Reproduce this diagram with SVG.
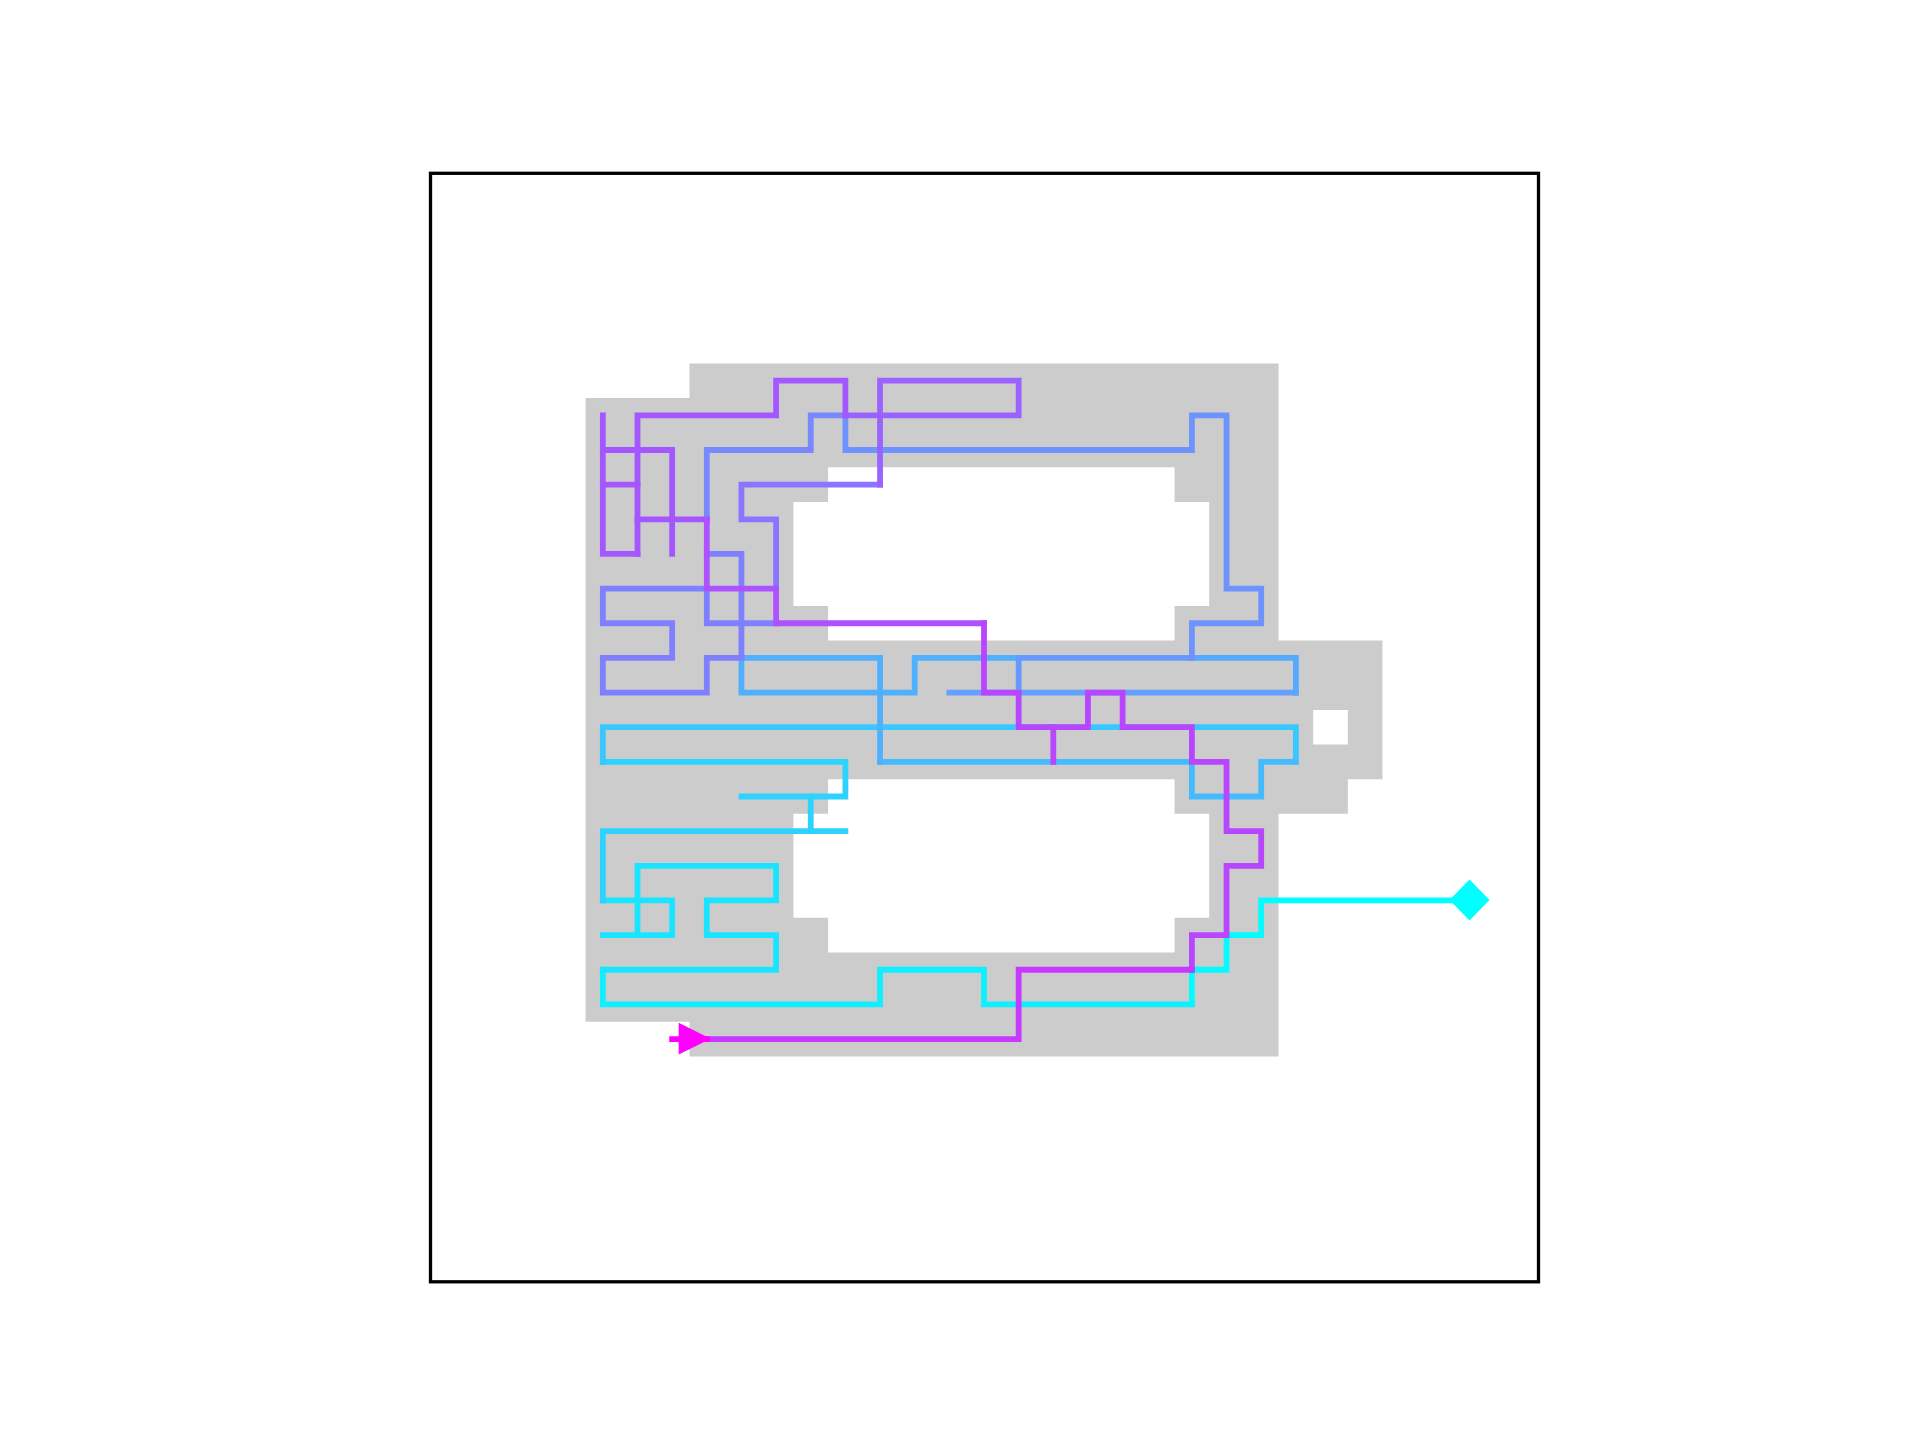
<svg xmlns="http://www.w3.org/2000/svg" width="1920" height="1440" viewBox="0 0 1920 1440">
<style>
.p{fill:none;stroke-width:0.1674;stroke-linecap:square;stroke-linejoin:miter}
</style>
<rect x="0" y="0" width="1920" height="1440" fill="#ffffff"/>
<g id="maze" transform="translate(429.6,172.8) scale(34.65)">
<path fill="#cccccc" fill-rule="evenodd" d="M7.5,5.5 H24.5 V13.5 H27.5 V17.5 H26.5 V18.5 H24.5 V25.5 H7.5 V24.5 H4.5 V6.5 H7.5 Z M11.5,8.5 H21.5 V9.5 H22.5 V12.5 H21.5 V13.5 H11.5 V12.5 H10.5 V9.5 H11.5 Z M11.5,17.5 H21.5 V18.5 H22.5 V21.5 H21.5 V22.5 H11.5 V21.5 H10.5 V18.5 H11.5 Z M25.5,15.5 H26.5 V16.5 H25.5 Z"/>
</g>
<g id="connectors" transform="translate(429.6,172.8) scale(34.65)">
<!-- cyan family -->
<polyline class="p" stroke="#03fcff" points="22,24 22,23 23,23 23,22 24,22 24,21 30,21"/>
<polyline class="p" stroke="#0ef0ff" points="5,23 5,24 13,24 13,23 16,23 16,24 22,24"/>
<polyline class="p" stroke="#1ae4ff" points="5,21 7,21 7,22 5,22"/>
<polyline class="p" stroke="#1ae4ff" points="6,22 6,20 10,20 10,21 8,21 8,22 10,22 10,23 5,23"/>
<polyline class="p" stroke="#2dd2ff" points="5,17 12,17 12,18 9,18"/>
<polyline class="p" stroke="#2dd2ff" points="11,18 11,19"/>
<polyline class="p" stroke="#2dd2ff" points="12,19 5,19 5,21"/>
<polyline class="p" stroke="#38c7ff" points="5,17 5,16 25,16 25,17"/>
<polyline class="p" stroke="#45bbff" points="13,17 22,17 22,18 24,18 24,17 25,17"/>
<!-- light blue family -->
<polyline class="p" stroke="#4fb0ff" points="13,14 9,14 9,15 14,15 14,14 17,14"/>
<polyline class="p" stroke="#4fb0ff" points="13,14 13,17"/>
<polyline class="p" stroke="#66a0ff" points="15,15 25,15"/>
<polyline class="p" stroke="#6699ff" points="17,15 17,14 22,14"/>
<polyline class="p" stroke="#57a8ff" points="22,14 25,14 25,15"/>
<!-- blue family -->
<polyline class="p" stroke="#7f80ff" points="8,11 9,11 9,14"/>
<polyline class="p" stroke="#7f80ff" points="8,12 8,13 10,13"/>
<polyline class="p" stroke="#7f80ff" points="8,12 5,12 5,13 7,13 7,14 5,14 5,15 8,15 8,14 9,14"/>
<polyline class="p" stroke="#7888ff" points="8,10 8,8 11,8 11,7 12,7"/>
<polyline class="p" stroke="#6e93ff" points="12,7 12,8 22,8 22,7 23,7 23,12 24,12 24,13 22,13 22,14"/>
<!-- purple family -->
<polyline class="p" stroke="#8b74ff" points="13,9 9,9 9,10 10,10 10,12"/>
<polyline class="p" stroke="#9a63ff" points="12,7 17,7 17,6 13,6 13,9"/>
<polyline class="p" stroke="#a457ff" points="8,10 6,10"/>
<polyline class="p" stroke="#a457ff" points="6,11 6,7 10,7 10,6 12,6 12,7"/>
<polyline class="p" stroke="#a457ff" points="5,7 5,11 6,11"/>
<polyline class="p" stroke="#a457ff" points="5,9 6,9"/>
<polyline class="p" stroke="#a457ff" points="5,8 7,8 7,11"/>
<!-- magenta path -->
<polyline class="p" stroke="#ad52ff" points="16,13 10,13 10,12 8,12 8,10"/>
<polyline class="p" stroke="#b946ff" points="22,23 22,22 23,22 23,20 24,20 24,19 23,19 23,17 22,17 22,16 20,16 20,15 19,15 19,16 17,16 17,15 16,15 16,13"/>
<polyline class="p" stroke="#b946ff" points="18,16 18,17"/>
<polyline class="p" stroke="#c63aff" points="8,25 17,25 17,23 22,23"/>
<polyline class="p" stroke="#ff00ff" points="7,25 8,25"/>
</g>
<g id="start">
<polygon points="678.7,1022.7 710.7,1038.8 678.7,1054.6" fill="#ff00ff"/>
</g>
<g id="goal">
<polygon points="1469.5,879.5 1489.5,900 1469.5,920.5 1449.5,900" fill="#00ffff"/>
</g>
<rect id="frame" x="430.5" y="173.3" width="1108" height="1108.5" fill="none" stroke="#000000" stroke-width="3.3"/>
</svg>
